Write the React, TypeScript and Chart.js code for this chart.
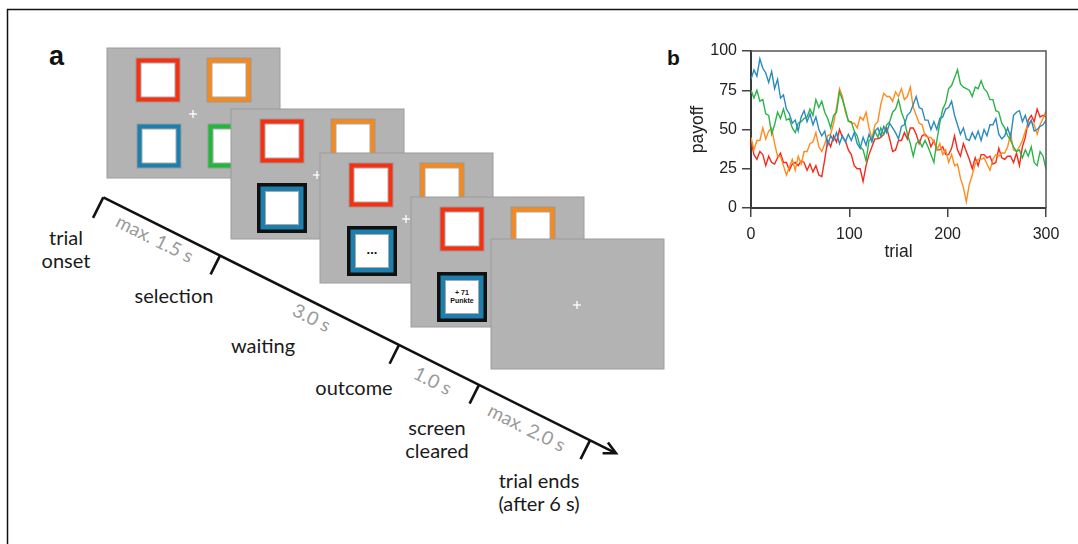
import React, { useEffect, useRef } from "react";
import { Chart, registerables } from "chart.js";

Chart.register(...registerables);

// ---- Panel b data (payoff random walks, sampled every 3 trials) ----
const TRIALS = [
  0, 3, 6, 9, 12, 15, 18, 21, 24, 27, 30, 33, 36, 39, 42, 45, 48, 51, 54, 57,
  60, 63, 66, 69, 72, 75, 78, 81, 84, 87, 90, 93, 96, 99, 102, 105, 108, 111, 114, 117,
  120, 123, 126, 129, 132, 135, 138, 141, 144, 147, 150, 153, 156, 159, 162, 165, 168, 171, 174, 177,
  180, 183, 186, 189, 192, 195, 198, 201, 204, 207, 210, 213, 216, 219, 222, 225, 228, 231, 234, 237,
  240, 243, 246, 249, 252, 255, 258, 261, 264, 267, 270, 273, 276, 279, 282, 285, 288, 291, 294, 297, 300,
];

const BLUE = [
  82, 88, 84, 95, 89, 86, 80, 87, 76, 82,
  70, 72, 63, 60, 54, 56, 49, 58, 62, 55,
  60, 53, 58, 50, 46, 49, 40, 46, 43, 48,
  41, 46, 42, 47, 43, 48, 41, 38, 45, 40,
  47, 42, 49, 51, 46, 52, 48, 54, 51, 48,
  44, 52, 53, 59, 61, 66, 71, 64, 63, 56,
  56, 50, 55, 50, 57, 58, 63, 64, 68, 59,
  53, 47, 51, 44, 43, 48, 44, 49, 43, 50,
  46, 53, 53, 57, 47, 44, 46, 51, 45, 59,
  61, 62, 55, 59, 52, 56, 49, 50, 52, 53,
  56,
];

const GREEN = [
  75, 70, 75, 68, 69, 60, 59, 47, 53, 61,
  57, 63, 56, 57, 51, 48, 54, 55, 57, 58,
  63, 59, 69, 64, 68, 61, 57, 51, 59, 61,
  74, 69, 63, 55, 55, 49, 46, 39, 37, 30,
  43, 44, 49, 45, 51, 47, 53, 55, 61, 63,
  69, 61, 56, 47, 41, 33, 41, 43, 39, 43,
  39, 34, 29, 43, 54, 63, 67, 76, 78, 83,
  88, 79, 77, 76, 75, 71, 77, 76, 81, 76,
  74, 69, 69, 62, 61, 54, 51, 46, 43, 39,
  36, 37, 32, 37, 33, 39, 29, 27, 36, 33,
  25,
];

const ORANGE = [
  45, 37, 43, 43, 51, 44, 49, 51, 41, 33,
  33, 27, 21, 26, 31, 24, 33, 28, 36, 36,
  41, 42, 48, 39, 36, 41, 46, 47, 54, 64,
  76, 71, 61, 56, 54, 54, 51, 58, 56, 61,
  51, 44, 53, 55, 66, 73, 71, 71, 68, 74,
  71, 76, 69, 71, 77, 64, 59, 54, 53, 46,
  45, 45, 42, 37, 41, 34, 37, 29, 34, 27,
  28, 19, 13, 4, 15, 21, 28, 31, 31, 32,
  28, 24, 31, 34, 33, 35, 35, 39, 47, 37,
  36, 39, 43, 49, 54, 55, 53, 47, 53, 57,
  62,
];

const RED = [
  43, 34, 31, 36, 34, 27, 33, 29, 28, 32,
  35, 29, 29, 24, 28, 29, 27, 30, 29, 24,
  28, 23, 27, 21, 20, 31, 43, 39, 46, 42,
  50, 45, 43, 37, 34, 27, 25, 25, 17, 27,
  34, 39, 44, 44, 45, 47, 51, 44, 36, 37,
  43, 43, 48, 44, 51, 51, 47, 41, 46, 47,
  45, 39, 43, 37, 37, 39, 34, 34, 38, 46,
  37, 33, 41, 36, 31, 25, 32, 27, 34, 34,
  32, 33, 28, 29, 38, 32, 31, 33, 33, 29,
  35, 27, 39, 45, 56, 59, 55, 63, 58, 59,
  58,
];

const SERIES = [
  { name: "blue", values: BLUE, color: "#2a8bbf" },
  { name: "green", values: GREEN, color: "#2cb34a" },
  { name: "orange", values: ORANGE, color: "#ff8c1c" },
  { name: "red", values: RED, color: "#f42b1c" },
];

const Y_TICKS = [0, 25, 50, 75, 100];
const X_TICKS = [0, 100, 200, 300];

// ---- Panel a content ----
const C_RED = "#f8300f";
const C_ORANGE = "#f7891a";
const C_BLUE = "#1d7fae";
const C_GREEN = "#20b83a";

const SCREENS = [
  { x: 107, y: 48, kind: "all" },
  { x: 231, y: 109, kind: "select" },
  { x: 320, y: 153, kind: "wait" },
  { x: 411, y: 197, kind: "outcome" },
  { x: 491, y: 239, kind: "blank" },
];

const EVENT_LABELS = [
  { lines: ["trial", "onset"], x: 66, y: 237 },
  { lines: ["selection"], x: 174, y: 295 },
  { lines: ["waiting"], x: 263, y: 345 },
  { lines: ["outcome"], x: 354, y: 387 },
  { lines: ["screen", "cleared"], x: 437, y: 427 },
  { lines: ["trial ends", "(after 6 s)"], x: 539, y: 480 },
];

const DURATION_LABELS = [
  { text: "max. 1.5 s", x: 155, y: 238 },
  { text: "3.0 s", x: 312, y: 317 },
  { text: "1.0 s", x: 433, y: 380 },
  { text: "max. 2.0 s", x: 527, y: 427 },
];

const LINE_START = { x: 103.3, y: 197.3 };
const LINE_END = { x: 616, y: 453.3 };
const TICK_XS = [103.3, 220, 399, 479, 590];

function ColorSquare({ x, y, color }: { x: number; y: number; color: string }) {
  return (
    <g>
      <rect x={x} y={y} width={44} height={44} fill={color} stroke="#9a9a9a" strokeWidth={1} />
      <rect x={x + 5} y={y + 5} width={34} height={34} fill="#ffffff" stroke="#a8a8a8" strokeWidth={1} />
    </g>
  );
}

function SelectedSquare({ x, y, children }: { x: number; y: number; children?: React.ReactNode }) {
  return (
    <g>
      <rect x={x} y={y} width={50} height={50} fill="#111" />
      <rect x={x + 3.5} y={y + 3.5} width={43} height={43} fill={C_BLUE} />
      <rect x={x + 8.5} y={y + 8.5} width={33} height={33} fill="#ffffff" stroke="#a8a8a8" strokeWidth={1} />
      {children}
    </g>
  );
}

function Cross({ x, y }: { x: number; y: number }) {
  return (
    <g stroke="#ffffff" strokeWidth={1.3}>
      <line x1={x - 4} y1={y} x2={x + 4} y2={y} />
      <line x1={x} y1={y - 4} x2={x} y2={y + 4} />
    </g>
  );
}

function Screen({ x, y, kind }: { x: number; y: number; kind: string }) {
  return (
    <g>
      <rect x={x} y={y} width={173} height={130} fill="#b3b3b3" stroke="#9c9c9c" strokeWidth={1} />
      {kind !== "blank" && <ColorSquare x={x + 29} y={y + 10} color={C_RED} />}
      {kind !== "blank" && <ColorSquare x={x + 100} y={y + 10} color={C_ORANGE} />}
      {kind === "all" && <ColorSquare x={x + 30} y={y + 76} color={C_BLUE} />}
      {kind === "all" && <ColorSquare x={x + 101} y={y + 76} color={C_GREEN} />}
      {kind === "select" && <SelectedSquare x={x + 26} y={y + 74} />}
      {kind === "wait" && (
        <SelectedSquare x={x + 27} y={y + 73}>
          <text x={x + 52} y={y + 101} textAnchor="middle" fontFamily="Liberation Sans" fontWeight="bold" fontSize={13} fill="#111">
            ...
          </text>
        </SelectedSquare>
      )}
      {kind === "outcome" && (
        <SelectedSquare x={x + 26} y={y + 75}>
          <text x={x + 51} y={y + 97.5} textAnchor="middle" fontFamily="Liberation Sans" fontWeight="bold" fontSize={7} fill="#111">
            + 71
          </text>
          <text x={x + 51} y={y + 105.5} textAnchor="middle" fontFamily="Liberation Sans" fontWeight="bold" fontSize={7} fill="#111">
            Punkte
          </text>
        </SelectedSquare>
      )}
      <Cross x={x + 86} y={y + 66} />
    </g>
  );
}

function PanelA() {
  const dx = LINE_END.x - LINE_START.x;
  const dy = LINE_END.y - LINE_START.y;
  const len = Math.hypot(dx, dy);
  const ux = dx / len;
  const uy = dy / len;
  const nx = -uy;
  const ny = ux;
  const angle = (Math.atan2(dy, dx) * 180) / Math.PI;
  const slope = dy / dx;
  const tipBackX = LINE_END.x - 12 * ux;
  const tipBackY = LINE_END.y - 12 * uy;
  return (
    <svg width={1078} height={544} style={{ position: "absolute", left: 0, top: 0 }}>
      {/* figure frame */}
      <line x1={7} y1={9.5} x2={1078} y2={9.5} stroke="#111" strokeWidth={1.5} />
      <line x1={7.5} y1={9} x2={7.5} y2={544} stroke="#111" strokeWidth={1.5} />
      <text x={49} y={65} fontFamily="Liberation Sans" fontWeight="bold" fontSize={27} fill="#111">
        a
      </text>
      <text x={667} y={64.5} fontFamily="Liberation Sans" fontWeight="bold" fontSize={21} fill="#111">
        b
      </text>
      {SCREENS.map((s, i) => (
        <Screen key={i} x={s.x} y={s.y} kind={s.kind} />
      ))}
      {/* timeline */}
      <line x1={LINE_START.x} y1={LINE_START.y} x2={LINE_END.x - 2 * ux} y2={LINE_END.y - 2 * uy} stroke="#111" strokeWidth={2.6} />
      <polyline
        points={`${tipBackX + 6 * nx},${tipBackY + 6 * ny} ${LINE_END.x},${LINE_END.y} ${tipBackX - 6 * nx},${tipBackY - 6 * ny}`}
        fill="none"
        stroke="#111"
        strokeWidth={2.6}
        strokeLinejoin="miter"
      />
      {TICK_XS.map((tx, i) => {
        const ty = LINE_START.y + slope * (tx - LINE_START.x);
        const l = i === 0 ? 23 : 21;
        return <line key={i} x1={tx} y1={ty} x2={tx - l * uy} y2={ty + l * ux} stroke="#111" strokeWidth={2.6} strokeLinecap="butt" />;
      })}
      {EVENT_LABELS.map((lab, i) => (
        <g key={i}>
          {lab.lines.map((t, j) => (
            <text key={j} x={lab.x} y={lab.y + j * 23} textAnchor="middle" dominantBaseline="central" fontFamily="Lato" fontSize={20} fill="#1a1a1a">
              {t}
            </text>
          ))}
        </g>
      ))}
      {DURATION_LABELS.map((lab, i) => (
        <text
          key={i}
          x={lab.x}
          y={lab.y}
          textAnchor="middle"
          dominantBaseline="central"
          fontFamily="Lato"
          fontSize={19}
          fill="#9a9a9a"
          transform={`rotate(${angle} ${lab.x} ${lab.y})`}
        >
          {lab.text}
        </text>
      ))}
    </svg>
  );
}

const framePlugin = {
  id: "frameTopRight",
  afterDraw(chart: any) {
    const { ctx, chartArea: a } = chart;
    ctx.save();
    ctx.strokeStyle = "#555";
    ctx.lineWidth = 1.5;
    ctx.beginPath();
    ctx.moveTo(a.left, a.top);
    ctx.lineTo(a.right, a.top);
    ctx.lineTo(a.right, a.bottom);
    ctx.stroke();
    ctx.restore();
  },
};

function PanelB() {
  const ref = useRef<HTMLCanvasElement | null>(null);
  useEffect(() => {
    if (!ref.current) return;
    const chart = new Chart(ref.current, {
      type: "line",
      data: {
        datasets: SERIES.map((s) => ({
          label: s.name,
          data: TRIALS.map((t, i) => ({ x: t, y: s.values[i] })),
          borderColor: s.color,
          backgroundColor: s.color,
          borderWidth: 1.4,
          pointRadius: 0,
          tension: 0,
          fill: false,
        })),
      },
      options: {
        responsive: false,
        animation: false,
        events: [],
        layout: { padding: { left: 24, right: 14, top: 11, bottom: 3 } },
        plugins: { legend: { display: false }, tooltip: { enabled: false } },
        scales: {
          x: {
            type: "linear",
            min: 0,
            max: 300,
            afterFit: (scale: any) => {
              scale.height = 59;
              scale.paddingLeft = 0;
              scale.paddingRight = 0;
            },
            afterBuildTicks: (scale: any) => {
              scale.ticks = X_TICKS.map((v) => ({ value: v }));
            },
            ticks: {
              padding: 8,
              color: "#222",
              font: { family: "Liberation Sans", size: 16 },
              maxRotation: 0,
            },
            grid: { display: true, drawOnChartArea: false, drawTicks: true, tickLength: 9, color: "#444", lineWidth: 1.5 },
            border: { display: true, color: "#3a3a3a", width: 2 },
            title: { display: true, text: "trial", color: "#222", font: { family: "Liberation Sans", size: 17.5 }, padding: { top: 4, bottom: 4 } },
          },
          y: {
            type: "linear",
            min: 0,
            max: 100,
            afterFit: (scale: any) => {
              scale.width = 67;
              scale.paddingTop = 0;
              scale.paddingBottom = 0;
            },
            afterBuildTicks: (scale: any) => {
              scale.ticks = Y_TICKS.map((v) => ({ value: v }));
            },
            ticks: {
              padding: 5,
              color: "#222",
              font: { family: "Liberation Sans", size: 16 },
            },
            grid: { display: true, drawOnChartArea: false, drawTicks: true, tickLength: 9, color: "#444", lineWidth: 1.5 },
            border: { display: true, color: "#3a3a3a", width: 2 },
            title: { display: true, text: "payoff", color: "#222", font: { family: "Liberation Sans", size: 17.5 }, padding: { top: 4, bottom: 4 } },
          },
        },
      },
      plugins: [framePlugin],
    } as any);
    return () => chart.destroy();
  }, []);
  return (
    <canvas
      ref={ref}
      width={400}
      height={230}
      style={{ position: "absolute", left: 660, top: 40, width: 400, height: 230 }}
    />
  );
}

export default function App() {
  return (
    <div style={{ position: "absolute", left: 0, top: 0, width: 1078, height: 544, background: "#fff", overflow: "hidden" }}>
      <PanelA />
      <PanelB />
    </div>
  );
}
